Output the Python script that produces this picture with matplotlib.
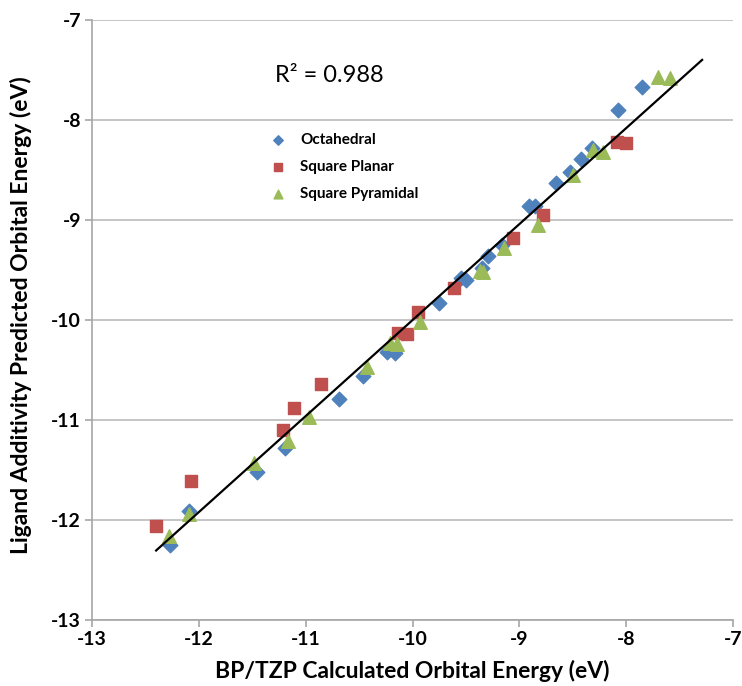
import numpy as np
import matplotlib
matplotlib.use("Agg")
import matplotlib.pyplot as plt

# Valores (eV)
oct_x = [-12.27, -12.09, -11.46, -11.19, -10.69, -10.46, -10.24, -10.16, -9.75, -9.55,
         -9.50, -9.35, -9.29, -9.16, -8.91, -8.85, -8.66, -8.53, -8.42, -8.32, -8.08, -7.85]
oct_y = [-12.25, -11.91, -11.52, -11.28, -10.79, -10.56, -10.32, -10.33, -9.83, -9.58,
         -9.60, -9.48, -9.36, -9.25, -8.86, -8.86, -8.63, -8.52, -8.39, -8.28, -7.90, -7.67]

sqp_x = [-12.40, -12.07, -11.21, -11.11, -10.86, -10.14, -10.05, -9.95, -9.61, -9.06,
         -8.78, -8.09, -8.00]
sqp_y = [-12.06, -11.61, -11.10, -10.88, -10.64, -10.13, -10.14, -9.92, -9.68, -9.18,
         -8.95, -8.22, -8.23]

pyr_x = [-12.28, -12.09, -11.48, -11.17, -10.97, -10.43, -10.21, -10.15, -9.93, -9.37,
         -9.34, -9.14, -8.83, -8.50, -8.31, -8.22, -7.70, -7.59]
pyr_y = [-12.16, -11.94, -11.43, -11.21, -10.97, -10.47, -10.23, -10.24, -10.02, -9.51,
         -9.52, -9.28, -9.05, -8.55, -8.30, -8.32, -7.57, -7.58]

r2_text = "R² = 0.988"
ticks = [-13, -12, -11, -10, -9, -8, -7]

plt.rcParams['font.family'] = ['Lato', 'DejaVu Sans']

fig = plt.figure(figsize=(7.42, 6.86), dpi=100)
ax = fig.add_axes([0.124, 0.096, 0.864, 0.875])

ax.scatter(oct_x, oct_y, marker='D', s=55, color='#4F81BD', label='Octahedral', zorder=3)
ax.scatter(sqp_x, sqp_y, marker='s', s=85, color='#C0504D', label='Square Planar', zorder=3)
ax.scatter(pyr_x, pyr_y, marker='^', s=95, color='#9BBB59', label='Square Pyramidal', zorder=3)

# Línea de tendencia lineal sobre todos los puntos
all_x = np.array(oct_x + sqp_x + pyr_x)
all_y = np.array(oct_y + sqp_y + pyr_y)
m, b = np.polyfit(all_x, all_y, 1)
xl = np.array([all_x.min(), all_x.max() + 0.3])
ax.plot(xl, m * xl + b, color='black', lw=1.6, zorder=4)

ax.set_xlim(-13, -7)
ax.set_ylim(-13, -7)
ax.set_xticks(ticks)
ax.set_yticks(ticks)
ax.set_xticklabels([str(t) for t in ticks], fontweight='bold', fontsize=14)
ax.set_yticklabels([str(t) for t in ticks], fontweight='bold', fontsize=14)
ax.grid(axis='y', color='#C0C0C0', lw=1.3)
ax.set_axisbelow(True)
for s in ['top', 'right']:
    ax.spines[s].set_visible(False)
for s in ['left', 'bottom']:
    ax.spines[s].set_color('#A6A6A6')
    ax.spines[s].set_linewidth(1.2)
ax.tick_params(direction='out', length=5, color='#A6A6A6', width=1.2, pad=3)

ax.set_xlabel('BP/TZP Calculated Orbital Energy (eV)', fontsize=16.5, fontweight='bold')
ax.set_ylabel('Ligand Additivity Predicted Orbital Energy (eV)', fontsize=16.5, fontweight='bold')
ax.xaxis.set_label_coords(0.5, -0.066)
ax.yaxis.set_label_coords(-0.094, 0.508)

ax.text(0.37, 0.908, r2_text, transform=ax.transAxes, fontsize=17, ha='center', va='center')

ax.legend(loc='upper left', bbox_to_anchor=(0.245, 0.835), frameon=False,
          prop={'weight': 'bold', 'size': 11}, labelspacing=0.85, handletextpad=0.45,
          markerscale=0.65)

fig.savefig('out.png', dpi=100)
